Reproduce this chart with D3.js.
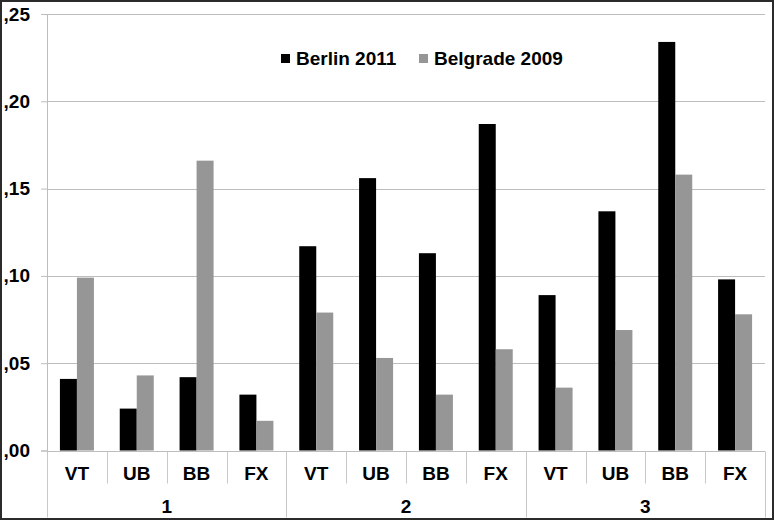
<!DOCTYPE html>
<html>
<head>
<meta charset="utf-8">
<script src="https://cdn.jsdelivr.net/npm/d3@7"></script>
<style>
  body { margin: 0; background: #fff; }
  svg { display: block; font-family: "Liberation Sans", Arial, sans-serif; font-weight: bold; }
</style>
</head>
<body>
<svg id="chart" width="774" height="521"></svg>
<script>
const groups = ["1", "2", "3"];
const subCategories = ["VT", "UB", "BB", "FX"];
const seriesNames = ["Berlin 2011", "Belgrade 2009"];
const berlin2011 = [0.041, 0.024, 0.042, 0.032, 0.117, 0.156, 0.113, 0.187, 0.089, 0.137, 0.234, 0.098];
const belgrade2009 = [0.099, 0.043, 0.166, 0.017, 0.079, 0.053, 0.032, 0.058, 0.036, 0.069, 0.158, 0.078];
const yTicks = [0, 0.05, 0.10, 0.15, 0.20, 0.25];

const colors = { "Berlin 2011": "#000000", "Belgrade 2009": "#969696" };

const width = 774, height = 521;
const margin = { top: 14, right: 9, bottom: 70.5, left: 47 };
const innerWidth = width - margin.left - margin.right;
const innerHeight = height - margin.top - margin.bottom;
const fontSize = 19;

const svg = d3.select("#chart");

// outer frame
svg.append("rect")
  .attr("x", 1).attr("y", 1)
  .attr("width", width - 2).attr("height", height - 3)
  .attr("fill", "#fff")
  .attr("stroke", "#2b2b2b")
  .attr("stroke-width", 2);

const g = svg.append("g").attr("transform", `translate(${margin.left},${margin.top})`);

const keys = [];
groups.forEach(gr => subCategories.forEach(sc => keys.push(gr + "|" + sc)));
const data = keys.map((k, i) => ({
  key: k,
  group: k.split("|")[0],
  sub: k.split("|")[1],
  values: [
    { series: seriesNames[0], value: berlin2011[i] },
    { series: seriesNames[1], value: belgrade2009[i] }
  ]
}));

const x0 = d3.scaleBand().domain(keys).range([0, innerWidth]).padding(0);
const x1 = d3.scaleBand().domain(seriesNames).range([0, x0.bandwidth()])
  .paddingInner(0).paddingOuter(0.76);
const y = d3.scaleLinear().domain([0, 0.25]).range([innerHeight, 0]);

// gridlines
g.append("g")
  .selectAll("line")
  .data(yTicks)
  .join("line")
  .attr("x1", 0).attr("x2", innerWidth)
  .attr("y1", d => Math.round(y(d)) + 0.5).attr("y2", d => Math.round(y(d)) + 0.5)
  .attr("stroke", "#bdbdbd")
  .attr("stroke-width", 1);

// y axis
const yAxis = g.append("g")
  .call(d3.axisLeft(y).tickValues(yTicks).tickSize(6).tickPadding(11)
    .tickFormat(d => "," + d3.format(".2f")(d).split(".")[1]));
yAxis.select(".domain").attr("stroke", "#bdbdbd");
yAxis.selectAll(".tick line").attr("stroke", "#bdbdbd");
yAxis.selectAll(".tick text")
  .attr("font-size", fontSize)
  .attr("font-weight", "bold")
  .attr("font-family", "Liberation Sans, Arial, sans-serif")
  .attr("fill", "#000");

// bars
const cat = g.selectAll(".cat")
  .data(data)
  .join("g")
  .attr("class", "cat")
  .attr("transform", d => `translate(${x0(d.key)},0)`);

cat.selectAll("rect")
  .data(d => d.values)
  .join("rect")
  .attr("x", d => x1(d.series))
  .attr("y", d => y(d.value))
  .attr("width", x1.bandwidth())
  .attr("height", d => innerHeight - y(d.value))
  .attr("fill", d => colors[d.series]);

// category axis (two levels)
const axisY = Math.round(innerHeight) + 0.5;
const axisG = g.append("g").attr("transform", `translate(0,${axisY})`);
axisG.append("line")
  .attr("x1", 0).attr("x2", innerWidth)
  .attr("stroke", "#bdbdbd");

// separators between sub categories
axisG.selectAll(".sep")
  .data(keys)
  .join("line")
  .attr("class", "sep")
  .attr("x1", d => Math.round(x0(d)) + 0.5)
  .attr("x2", d => Math.round(x0(d)) + 0.5)
  .attr("y1", 0)
  .attr("y2", d => d.endsWith("|VT") ? 66 : 32)
  .attr("stroke", "#c8c8c8");
axisG.append("line")
  .attr("x1", innerWidth + 0.5).attr("x2", innerWidth + 0.5)
  .attr("y1", 0).attr("y2", 66)
  .attr("stroke", "#c8c8c8");

axisG.selectAll(".sublabel")
  .data(data)
  .join("text")
  .attr("class", "sublabel")
  .attr("x", d => x0(d.key) + x0.bandwidth() / 2)
  .attr("y", 28)
  .attr("text-anchor", "middle")
  .attr("font-size", fontSize)
  .attr("fill", "#000")
  .text(d => d.sub);

axisG.selectAll(".grouplabel")
  .data(groups)
  .join("text")
  .attr("class", "grouplabel")
  .attr("x", gr => (x0(gr + "|VT") + x0(gr + "|FX") + x0.bandwidth()) / 2)
  .attr("y", 61)
  .attr("text-anchor", "middle")
  .attr("font-size", fontSize)
  .attr("fill", "#000")
  .text(gr => gr);

// legend
const legend = svg.append("g").attr("transform", "translate(281,53)");
const legendX = [0, 138];
seriesNames.forEach((s, i) => {
  const lg = legend.append("g").attr("transform", `translate(${legendX[i]},0)`);
  lg.append("rect")
    .attr("width", 9).attr("height", 9)
    .attr("y", 1)
    .attr("fill", colors[s]);
  lg.append("text")
    .attr("x", 15).attr("y", 12)
    .attr("font-size", fontSize)
    .attr("fill", "#000")
    .text(s);
});
</script>
</body>
</html>
